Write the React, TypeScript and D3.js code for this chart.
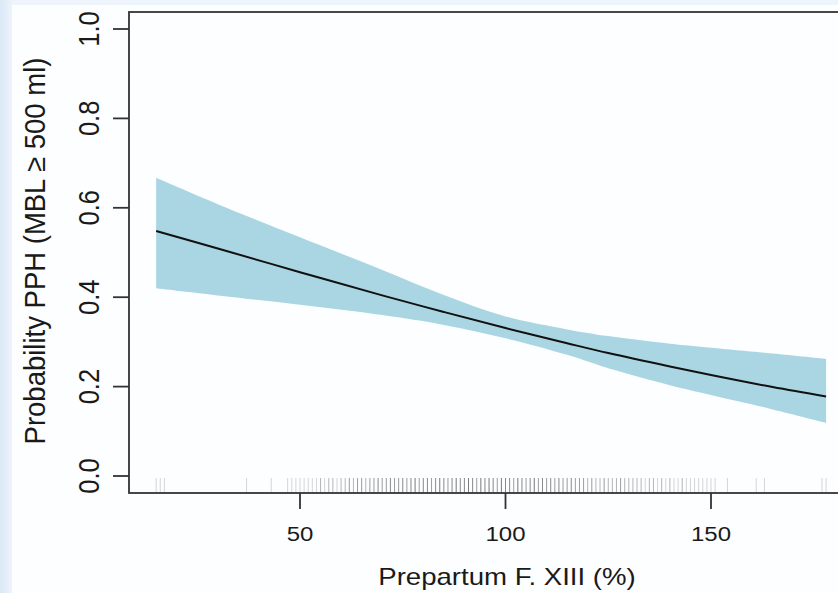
import React from "react";
import * as d3 from "d3";

// Fitted curve and confidence band
const fxValues = [15, 30, 50, 70, 85, 100, 115, 125, 140, 150, 165, 178];
const fitValues = [0.548, 0.509, 0.456, 0.404, 0.367, 0.331, 0.297, 0.275, 0.245, 0.226, 0.199, 0.178];
const upperValues = [0.667, 0.608, 0.534, 0.461, 0.405, 0.357, 0.328, 0.313, 0.296, 0.287, 0.274, 0.262];
const lowerValues = [0.42, 0.404, 0.383, 0.36, 0.338, 0.308, 0.271, 0.241, 0.203, 0.181, 0.149, 0.119];

// Rug of observed F. XIII values and multiplicities
const rugValues = [
  15, 16, 17, 37, 43,
  47, 48, 49, 50, 51, 52, 53, 54, 55, 56, 57, 58, 59, 60,
  61, 62, 63, 64, 65, 66, 67, 68, 69, 70, 71, 72, 73, 74, 75,
  76, 77, 78, 79, 80, 81, 82, 83, 84, 85, 86, 87, 88, 89, 90,
  91, 92, 93, 94, 95, 96, 97, 98, 99, 100, 101, 102, 103, 104, 105,
  106, 107, 108, 109, 110, 111, 112, 113, 114, 115, 116, 117, 118, 119, 120,
  121, 122, 123, 124, 125, 126, 127, 128, 129, 130, 131, 132, 133, 134, 135,
  136, 137, 138, 139, 140, 141, 142, 143, 144, 145, 146, 147, 148, 149, 150, 151,
  154, 161, 163, 177, 178,
];
const rugCounts = [
  1, 1, 1, 1, 1,
  1, 1, 1, 1, 1, 1, 1, 1, 2, 1, 2, 2, 1, 2,
  2, 3, 2, 3, 3, 2, 3, 3, 4, 3, 3, 4, 3, 3, 4,
  3, 4, 5, 3, 4, 4, 3, 4, 5, 4, 3, 4, 5, 4, 4,
  5, 4, 3, 5, 4, 5, 4, 3, 5, 4, 4, 3, 5, 4, 3,
  4, 5, 3, 4, 3, 4, 3, 4, 3, 3, 4, 3, 3, 3, 2,
  3, 2, 2, 3, 2, 2, 2, 3, 2, 2, 2, 2, 2, 1, 2,
  2, 1, 2, 1, 2, 1, 1, 2, 1, 1, 1, 1, 1, 1, 1, 1,
  1, 1, 1, 1, 1,
];

const xTicks = [50, 100, 150];
const yTicks = [0, 0.2, 0.4, 0.6, 0.8, 1.0];

const W = 838;
const H = 593;
const font = "'Liberation Sans', Arial, Helvetica, sans-serif";

export default function App() {
  const x = d3.scaleLinear().domain([50, 150]).range([300, 711]);
  const y = d3.scaleLinear().domain([0, 1]).range([476, 29]);

  const box = { left: 129, top: 12, bottom: 493, right: 900 };

  const band = d3
    .area<number>()
    .x((_, i) => x(fxValues[i]))
    .y0((_, i) => y(lowerValues[i]))
    .y1((_, i) => y(upperValues[i]))
    .curve(d3.curveCatmullRom.alpha(0.5))(fxValues);

  const fit = d3
    .line<number>()
    .x((_, i) => x(fxValues[i]))
    .y((_, i) => y(fitValues[i]))
    .curve(d3.curveCatmullRom.alpha(0.5))(fxValues);

  return (
    <svg
      width={W}
      height={H}
      viewBox={`0 0 ${W} ${H}`}
      style={{ position: "absolute", left: 0, top: 0, display: "block" }}
    >
      <defs>
        <linearGradient id="leftStrip" x1="0" x2="1" y1="0" y2="0">
          <stop offset="0" stopColor="#dbe8f6" />
          <stop offset="1" stopColor="#ecf3fb" />
        </linearGradient>
        <clipPath id="plotClip">
          <rect x={box.left} y={box.top} width={box.right - box.left} height={box.bottom - box.top} />
        </clipPath>
      </defs>
      <rect x={0} y={0} width={W} height={H} fill="#fdfeff" />
      <rect x={0} y={0} width={W} height={5} fill="#edf4fc" />
      <rect x={0} y={0} width={12} height={H} fill="url(#leftStrip)" />

      <g clipPath="url(#plotClip)">
        <path d={band ?? ""} fill="#a9d6e2" />
        <path d={fit ?? ""} fill="none" stroke="#111" strokeWidth={2} />
        {rugValues.map((v, i) => {
          const op = 1 - Math.pow(1 - 0.22, rugCounts[i]);
          return (
            <line
              key={i}
              x1={x(v)}
              x2={x(v)}
              y1={478}
              y2={box.bottom}
              stroke="#444"
              strokeOpacity={op}
              strokeWidth={1}
            />
          );
        })}
      </g>

      {/* box */}
      <rect
        x={box.left}
        y={box.top}
        width={box.right - box.left}
        height={box.bottom - box.top}
        fill="none"
        stroke="#333"
        strokeWidth={1.8}
      />

      {/* y axis */}
      {yTicks.map((t) => (
        <g key={t}>
          <line x1={113} x2={box.left} y1={y(t)} y2={y(t)} stroke="#333" strokeWidth={1.8} />
          <text
            transform={`translate(99,${y(t)}) scale(1.13,1) rotate(-90)`}
            textAnchor="middle"
            fontFamily={font}
            fontSize={25.5}
            fill="#1a1a1a"
          >
            {t.toFixed(1)}
          </text>
        </g>
      ))}

      {/* x axis */}
      {xTicks.map((t) => (
        <g key={t}>
          <line x1={x(t)} x2={x(t)} y1={box.bottom} y2={509} stroke="#333" strokeWidth={1.8} />
          <text
            transform={`translate(${x(t)},541) scale(1.17,1)`}
            textAnchor="middle"
            fontFamily={font}
            fontSize={20.5}
            fill="#1a1a1a"
          >
            {t}
          </text>
        </g>
      ))}

      <text
        transform={`translate(507,585) scale(1.2,1)`}
        textAnchor="middle"
        fontFamily={font}
        fontSize={23}
        fill="#1a1a1a"
      >
        Prepartum F. XIII (%)
      </text>

      <text
        transform={`translate(45,251) scale(1.05,1) rotate(-90)`}
        textAnchor="middle"
        fontFamily={font}
        fontSize={27.5}
        fill="#1a1a1a"
      >
        Probability PPH (MBL ≥ 500 ml)
      </text>
    </svg>
  );
}
